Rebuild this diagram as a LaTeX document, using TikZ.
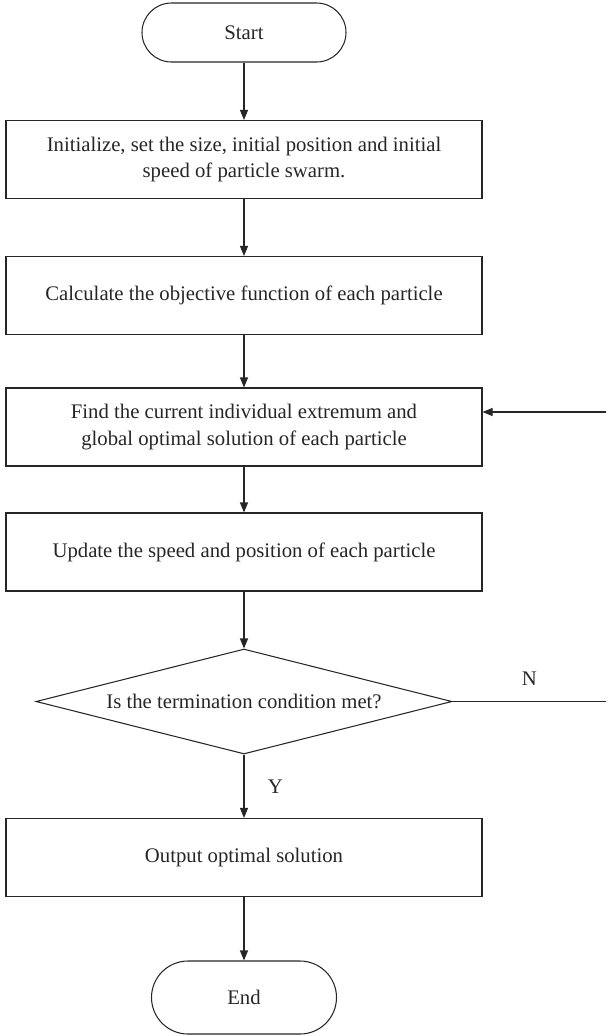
\documentclass[tikz,border=0pt]{standalone}
\usepackage{fontspec}
\setmainfont{Liberation Serif}
\usepackage{tikz}
\usetikzlibrary{shapes,arrows.meta,positioning}
\tikzstyle{term}=[rectangle, draw=black!85, line width=0.6pt, rounded corners=0.59cm, minimum width=4.08cm, minimum height=1.18cm, text centered, text=black!85, font=\fontsize{11.8}{15}\selectfont]
\tikzstyle{box}=[rectangle, draw=black!85, line width=0.6pt, minimum width=9.52cm, minimum height=1.56cm, align=center, text=black!85, font=\fontsize{11.8}{15}\selectfont]
\tikzstyle{decide}=[diamond, draw=black!85, line width=0.6pt, aspect=4, inner sep=0pt, minimum width=8.32cm, minimum height=2.1cm, text=black!85, font=\fontsize{11.8}{15}\selectfont]
\tikzstyle{conn}=[draw=black!85, line width=0.6pt]
\tikzstyle{arr}=[conn, -{Triangle[length=2mm,width=1.6mm]}]

\begin{document}
\begin{tikzpicture}
\useasboundingbox (0,0) rectangle (12.12,-20.72);

%Main column
\node[term] (start) at (4.88,-0.65){Start};
\node[box] (init) at (4.88,-3.19){Initialize, set the size, initial position and initial\\speed of particle swarm.};
\node[box] (calc) at (4.88,-5.91){Calculate the objective function of each particle};
\node[box] (find) at (4.88,-8.54){Find the current individual extremum and\\global optimal solution of each particle};
\node[box] (upd) at (4.88,-11.04){Update the speed and position of each particle};
\node[decide] (cond) at (4.88,-14.03){Is the termination condition met?};
\node[box] (out) at (4.88,-17.15){Output optimal solution};
\node[term, minimum width=3.7cm, minimum height=1.46cm, rounded corners=0.73cm] (end) at (4.88,-19.95){End};

%Loop ends at the right edge
\coordinate (nend) at (12.12,-14.03);
\coordinate (back) at (12.12,-8.24);

%Connectors
\draw[arr] (start) -- (init);
\draw[arr] (init) -- (calc);
\draw[arr] (calc) -- (find);
\draw[arr] (find) -- (upd);
\draw[arr] (upd) -- (cond);
\draw[arr] (cond) -- node[right=0.35cm, text=black!85, font=\fontsize{11.8}{15}\selectfont]{Y} (out);
\draw[arr] (out) -- (end);
\draw[conn] (cond.east) -- node[above=0.2cm, text=black!85, font=\fontsize{11.8}{15}\selectfont]{N} (nend);
\draw[arr] (back) -- (back -| find.east);

\end{tikzpicture}
\end{document}
